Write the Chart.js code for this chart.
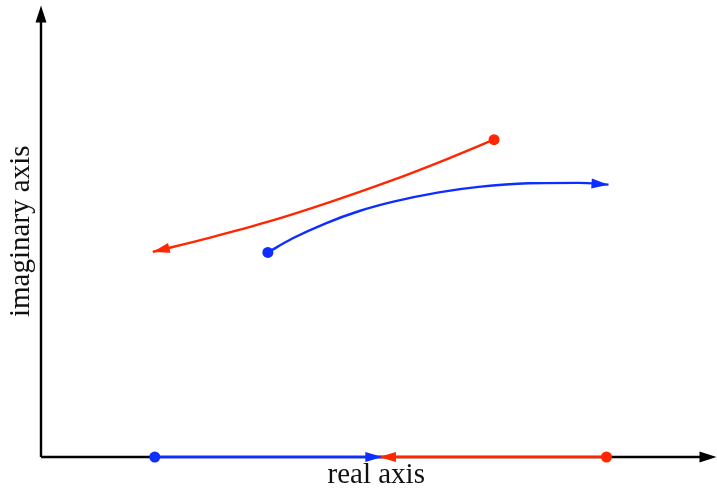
<!DOCTYPE html>
<html>
<head>
<meta charset="utf-8">
<script src="https://cdn.jsdelivr.net/npm/chart.js@4/dist/chart.umd.min.js"></script>
<style>
    html, body { margin: 0; padding: 0; background: #fff; }
    #wrap { width: 717px; height: 488px; }
</style>
</head>
<body>
<div id="wrap"><canvas id="chart"></canvas></div>
<script>
// path of the red root, left to right (arrow on the left end, dot on the right)
const redPathX = [1.66, 2.50, 3.39, 4.28, 5.17, 6.06, 6.73];
const redPathY = [4.51, 4.82, 5.18, 5.60, 6.06, 6.57, 6.98];

// path of the blue root, left to right (dot on the left end, arrow on the right)
const bluePathX = [3.37, 3.74, 4.23, 4.73, 5.22, 5.91, 6.50, 7.24, 7.99, 8.43];
const bluePathY = [4.50, 4.81, 5.14, 5.41, 5.61, 5.82, 5.94, 6.02, 6.03, 5.99];

// roots on the real axis
const blueRealX = [1.69, 5.07];
const redRealX = [5.02, 8.40];

const RED = '#ff2600';
const BLUE = '#0d2eff';

const toPoints = (xs, ys) => {
    return xs.map((x, i) => ({ x: x, y: ys ? ys[i] : 0 }));
}

// dot on one end only
const dotRadius = (n, dotAt) => {
    const k = dotAt == 'start' ? 0 : n - 1;
    return Array.from({ length: n }, (_, i) => i == k ? 5.5 : 0);
}

const makePath = (xs, ys, color, smooth, arrowAt) => {
    return {
        data: toPoints(xs, ys),
        borderColor: color,
        backgroundColor: color,
        borderWidth: 2.4,
        pointRadius: dotRadius(xs.length, arrowAt == 'end' ? 'start' : 'end'),
        pointHoverRadius: 0,
        pointBorderWidth: 0,
        cubicInterpolationMode: smooth ? 'monotone' : 'default',
        tension: 0,
        clip: false,
        arrowAt: arrowAt
    }
}

const drawHead = (ctx, tipX, tipY, fromX, fromY, len, half, color) => {
    const ang = Math.atan2(tipY - fromY, tipX - fromX);
    ctx.save();
    ctx.translate(tipX, tipY);
    ctx.rotate(ang);
    ctx.fillStyle = color;
    ctx.beginPath();
    ctx.moveTo(0, 0);
    ctx.lineTo(-len, -half);
    ctx.lineTo(-len, half);
    ctx.closePath();
    ctx.fill();
    ctx.restore();
}

// black axes with arrows, drawn under the roots
const axesPlugin = {
    id: 'axesArrows',
    beforeDatasetsDraw(chart) {
        const ctx = chart.ctx;
        const xs = chart.scales.x, ys = chart.scales.y;
        const x0 = xs.getPixelForValue(0), y0 = ys.getPixelForValue(0);
        const xEnd = chart.chartArea.right + 5;
        const yEnd = chart.chartArea.top;
        ctx.save();
        ctx.strokeStyle = '#000';
        ctx.lineWidth = 2.4;
        ctx.beginPath();
        ctx.moveTo(x0, y0);
        ctx.lineTo(xEnd - 10, y0);
        ctx.moveTo(x0, y0);
        ctx.lineTo(x0, yEnd + 10);
        ctx.stroke();
        ctx.restore();
        drawHead(ctx, xEnd, y0, x0, y0, 17, 5.5, '#000');
        drawHead(ctx, x0, yEnd, x0, y0, 17, 5.5, '#000');
    }
};

// arrowheads at the marked end of each root path
const headsPlugin = {
    id: 'pathHeads',
    afterDatasetsDraw(chart) {
        chart.data.datasets.forEach((ds, i) => {
            if (!ds.arrowAt) return;
            const pts = chart.getDatasetMeta(i).data;
            let tip, fx, fy, next;
            if (ds.arrowAt == 'end') {
                tip = pts[pts.length - 1];
                next = pts[pts.length - 2];
                fx = tip.cp1x; fy = tip.cp1y;
            } else {
                tip = pts[0];
                next = pts[1];
                fx = tip.cp2x; fy = tip.cp2y;
            }
            if (fx === undefined || Math.hypot(fx - tip.x, fy - tip.y) < 1) {
                fx = next.x;
                fy = next.y;
            }
            drawHead(chart.ctx, tip.x, tip.y, fx, fy, 17, 5, ds.borderColor);
        });
    }
};

const titleFont = { family: "'Liberation Serif', serif", size: 29, lineHeight: 0.9 };

new Chart(document.getElementById('chart'), {
    type: 'line',
    data: {
        datasets: [
            makePath(blueRealX, null, BLUE, false, 'end'),
            makePath(redRealX, null, RED, false, 'start'),
            makePath(redPathX, redPathY, RED, true, 'start'),
            makePath(bluePathX, bluePathY, BLUE, true, 'end')
        ]
    },
    options: {
        responsive: true,
        maintainAspectRatio: false,
        animation: false,
        layout: { padding: { left: 8.5, right: 1, top: 2, bottom: 0 } },
        plugins: {
            legend: { display: false },
            tooltip: { enabled: false }
        },
        events: [],
        scales: {
            x: {
                type: 'linear',
                min: 0,
                max: 9.96,
                grid: { display: false, drawTicks: false },
                border: { display: false },
                ticks: { display: false },
                title: { display: true, text: 'real axis', color: '#111', font: titleFont, padding: { top: 4.9, bottom: 0 } }
            },
            y: {
                type: 'linear',
                min: 0,
                max: 9.93,
                grid: { display: false, drawTicks: false },
                border: { display: false },
                ticks: { display: false },
                title: { display: true, text: 'imaginary axis', color: '#111', font: titleFont, padding: { top: 0, bottom: 6.4 } }
            }
        }
    },
    plugins: [axesPlugin, headsPlugin]
});
</script>
</body>
</html>
